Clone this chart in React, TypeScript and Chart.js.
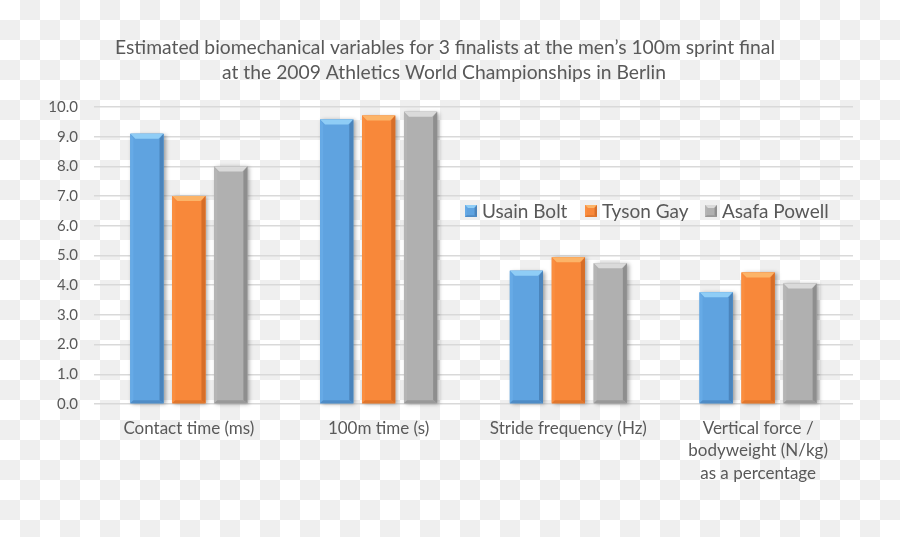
import React, { useEffect, useRef } from "react";
import { Chart, registerables } from "chart.js";

Chart.register(...registerables);

const categories: (string | string[])[] = [
  "Contact time (ms)",
  "100m time (s)",
  "Stride frequency (Hz)",
  ["Vertical force /", "bodyweight (N/kg)", "as a percentage"],
];
const seriesNames = ["Usain Bolt", "Tyson Gay", "Asafa Powell"];
const boltValues = [9.1, 9.58, 4.49, 3.76];
const gayValues = [7.0, 9.71, 4.94, 4.43];
const powellValues = [8.0, 9.84, 4.74, 4.06];
const titleLines = [
  "Estimated biomechanical variables for 3 finalists at the men\u2019s 100m sprint final",
  "at the 2009 Athletics World Championships in Berlin",
];

const FONT = "Lato, 'Open Sans', sans-serif";
const TEXT = "#595959";

const palettes = [
  { face: "#5FA3E0", top: "#8FCDF6", left: "#66AAE6", right: "#4A84BC", bottom: "#4F8CC6" },
  { face: "#F8883A", top: "#FCB468", left: "#FA8E40", right: "#D76E28", bottom: "#E0772E" },
  { face: "#B0B0B0", top: "#DADADA", left: "#B5B5B5", right: "#8E8E8E", bottom: "#999999" },
];

function poly(ctx: CanvasRenderingContext2D, pts: number[][], color: string) {
  ctx.beginPath();
  ctx.moveTo(pts[0][0], pts[0][1]);
  for (let i = 1; i < pts.length; i++) ctx.lineTo(pts[i][0], pts[i][1]);
  ctx.closePath();
  ctx.fillStyle = color;
  ctx.fill();
}

function bevel(ctx: CanvasRenderingContext2D, l: number, t: number, r: number, b: number, p: any, s: number) {
  poly(ctx, [[l, t], [r, t], [r - s, t + s], [l + s, t + s]], p.top);
  poly(ctx, [[l, t], [l + s * 0.6, t + s], [l + s * 0.6, b - s * 0.6], [l, b]], p.left);
  poly(ctx, [[r, t], [r, b], [r - s * 0.8, b - s * 0.6], [r - s * 0.8, t + s]], p.right);
  poly(ctx, [[l, b], [r, b], [r - s * 0.8, b - s * 0.6], [l + s * 0.6, b - s * 0.6]], p.bottom);
}

const checkerPlugin = {
  id: "checker",
  beforeDraw(chart: any) {
    const ctx = chart.ctx;
    ctx.save();
    ctx.fillStyle = "#ffffff";
    ctx.fillRect(0, 0, chart.width, chart.height);
    ctx.fillStyle = "#efefef";
    for (let row = 0; row * 20 < chart.height; row++) {
      for (let col = 0; col * 20 < chart.width; col++) {
        if ((row + col) % 2 === 1) ctx.fillRect(col * 20, row * 20, 20, 20);
      }
    }
    ctx.restore();
  },
};

const titlePlugin = {
  id: "customTitle",
  afterDraw(chart: any) {
    const ctx = chart.ctx;
    ctx.save();
    ctx.fillStyle = TEXT;
    ctx.font = `19.3px ${FONT}`;
    ctx.textAlign = "center";
    ctx.textBaseline = "middle";
    ctx.fillText(titleLines[0], 445, 48);
    ctx.fillText(titleLines[1], 444, 73);
    ctx.restore();
  },
};

const barShadowPlugin = {
  id: "barShadow",
  beforeDatasetsDraw(chart: any) {
    const ctx = chart.ctx;
    ctx.save();
    chart.data.datasets.forEach((_d: any, di: number) => {
      const meta = chart.getDatasetMeta(di);
      meta.data.forEach((el: any) => {
        const { x, y, base, width } = el.getProps(["x", "y", "base", "width"], true);
        ctx.shadowColor = "rgba(0,0,0,0.35)";
        ctx.shadowBlur = 4;
        ctx.shadowOffsetX = 2;
        ctx.shadowOffsetY = 1;
        ctx.fillStyle = palettes[di].face;
        ctx.fillRect(x - width / 2, y, width, base - y);
      });
    });
    ctx.restore();
  },
  afterDatasetsDraw(chart: any) {
    const ctx = chart.ctx;
    ctx.save();
    chart.data.datasets.forEach((_d: any, di: number) => {
      const meta = chart.getDatasetMeta(di);
      meta.data.forEach((el: any) => {
        const { x, y, base, width } = el.getProps(["x", "y", "base", "width"], true);
        bevel(ctx, x - width / 2, y, x + width / 2, base, palettes[di], 5);
      });
    });
    ctx.restore();
  },
};

const legendPlugin = {
  id: "customLegend",
  afterDraw(chart: any) {
    const ctx = chart.ctx;
    ctx.save();
    ctx.font = `19px ${FONT}`;
    ctx.textBaseline = "middle";
    ctx.fillStyle = TEXT;
    const xs = [465, 585, 705];
    const cy = 211;
    seriesNames.forEach((name, i) => {
      const p = palettes[i];
      ctx.fillStyle = p.face;
      ctx.fillRect(xs[i], cy - 6, 12, 12);
      bevel(ctx, xs[i], cy - 6, xs[i] + 12, cy + 6, p, 3);
      ctx.fillStyle = TEXT;
      ctx.fillText(name, xs[i] + 17, cy + 1);
    });
    ctx.restore();
  },
};

export default function App() {
  const ref = useRef<HTMLCanvasElement | null>(null);
  useEffect(() => {
    if (!ref.current) return;
    const data = [boltValues, gayValues, powellValues];
    const chart = new Chart(ref.current, {
      type: "bar",
      data: {
        labels: categories,
        datasets: seriesNames.map((name, i) => ({
          label: name,
          data: data[i],
          backgroundColor: palettes[i].face,
          borderWidth: 0,
          barPercentage: 0.79,
          categoryPercentage: 0.663,
        })),
      },
      options: {
        responsive: false,
        animation: false,
        layout: { padding: { top: 107, right: 47, left: 0, bottom: 0 } },
        plugins: {
          legend: { display: false },
          title: { display: false },
          tooltip: { enabled: false },
        },
        scales: {
          x: {
            grid: { display: false, drawTicks: false },
            border: { display: false },
            ticks: {
              color: TEXT,
              font: { family: FONT, size: 17, lineHeight: 1.32 },
              padding: 13,
              maxRotation: 0,
              autoSkip: false,
            },
            afterFit: (s: any) => {
              s.height = 133;
            },
          },
          y: {
            min: 0,
            max: 10,
            grid: { color: "#d9d9d9", lineWidth: 1.5, drawTicks: false },
            border: { display: false },
            ticks: {
              stepSize: 1,
              color: TEXT,
              padding: 16,
              font: { family: FONT, size: 15 },
              callback: (v: any) => Number(v).toFixed(1),
            },
            afterFit: (s: any) => {
              s.width = 94;
            },
          },
        },
      },
      plugins: [checkerPlugin, barShadowPlugin, titlePlugin, legendPlugin],
    });
    return () => chart.destroy();
  }, []);
  return (
    <div style={{ position: "fixed", left: 0, top: 0, width: 900, height: 537 }}>
      <canvas ref={ref} width={900} height={537} style={{ display: "block" }} />
    </div>
  );
}
